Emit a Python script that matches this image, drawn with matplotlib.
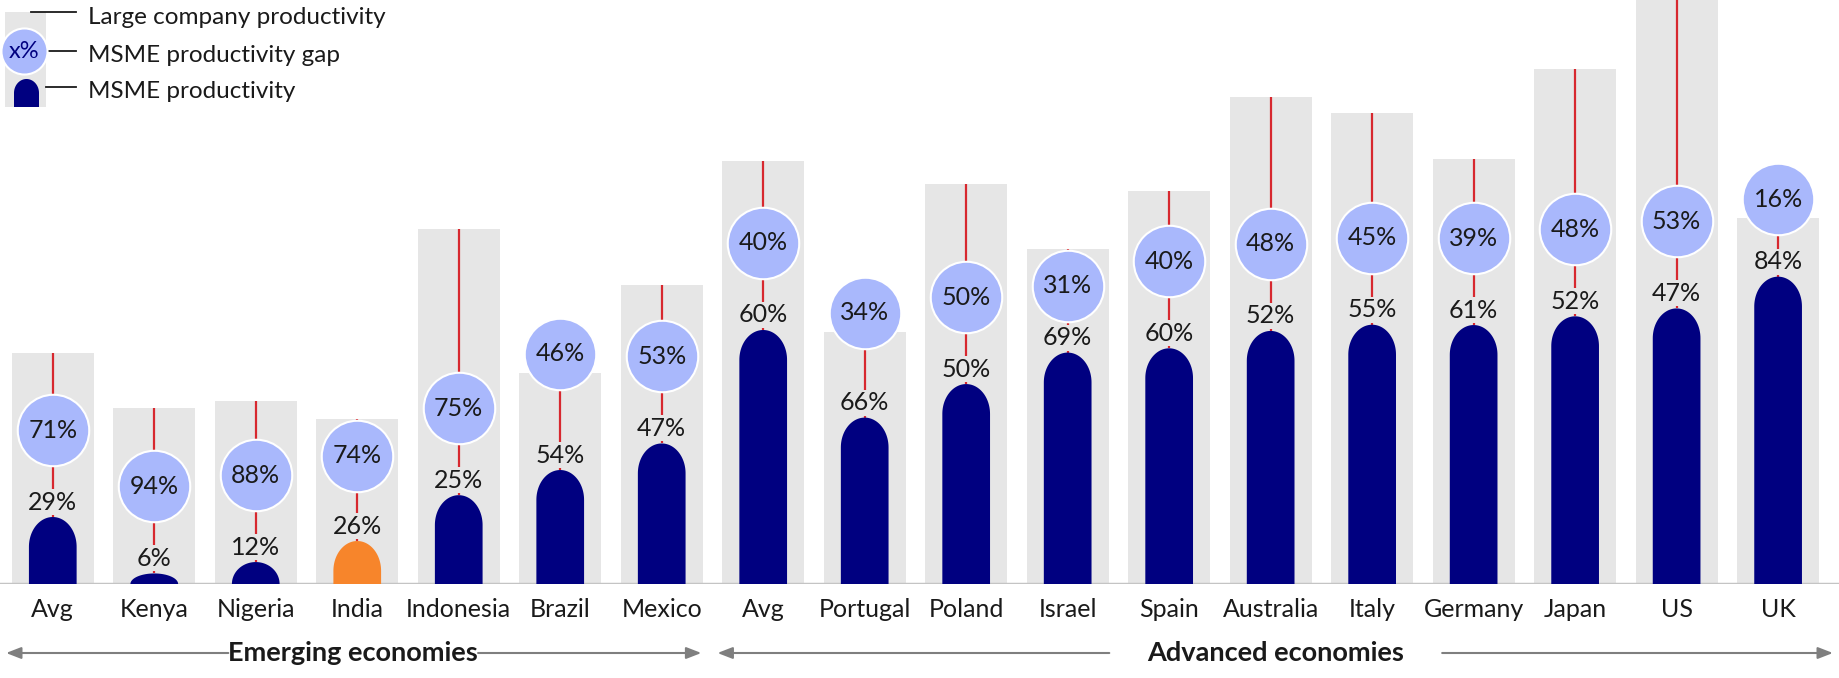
import numpy as np
import matplotlib.pyplot as plt
from matplotlib.patches import Polygon, Rectangle

plt.rcParams['font.family'] = ['Lato', 'DejaVu Sans']

countries = ['Avg', 'Kenya', 'Nigeria', 'India', 'Indonesia', 'Brazil', 'Mexico',
             'Avg', 'Portugal', 'Poland', 'Israel', 'Spain', 'Australia', 'Italy',
             'Germany', 'Japan', 'US', 'UK']
# large company productivity (index)
large_prod = [39.4, 30.0, 31.2, 28.2, 60.6, 36.0, 51.0, 72.2, 43.0, 68.2,
              57.2, 67.0, 83.0, 80.4, 72.4, 87.8, 100.0, 62.4]
# MSME productivity as % of large company productivity
msme_share = [29, 6, 12, 26, 25, 54, 47, 60, 66, 50, 69, 60, 52, 55, 61, 52, 47, 84]
# MSME productivity gap, %
gap = [71, 94, 88, 74, 75, 46, 53, 40, 34, 50, 31, 40, 48, 45, 39, 48, 53, 16]
highlight = 'India'
groups = [('Emerging economies', 0, 6), ('Advanced economies', 7, 17)]

GREY = '#e6e6e6'
NAVY = '#000080'
ORANGE = '#f7852b'
BUBBLE = '#a9b8fc'
RED = '#d7282f'
TXT = '#1a1a1a'

W, H = 1839, 678
fig = plt.figure(figsize=(W / 100, H / 100), dpi=100)
base_px = 94
ax = fig.add_axes([0, base_px / H, 1, 1 - base_px / H])
xmin, xmax = -0.52, 17.6
ytop = 99.6
ax.set_xlim(xmin, xmax)
ax.set_ylim(0, ytop)

# pixel size of one data unit
xpx = W / (xmax - xmin)
ypx = (H - base_px) / ytop

x = np.arange(len(countries))
large = np.array(large_prod)
msme = large * np.array(msme_share) / 100


def rounded_bar(axis, xc, h, half_w, ry, color, zorder):
    # bar with a rounded (elliptic) top
    ry = min(ry, h)
    t = np.linspace(0, np.pi, 60)
    arc_x = xc + half_w * np.cos(t)
    arc_y = (h - ry) + ry * np.sin(t)
    pts = np.column_stack([np.r_[xc + half_w, arc_x, xc - half_w],
                           np.r_[0, arc_y, 0]])
    axis.add_patch(Polygon(pts, closed=True, fc=color, ec='none', zorder=zorder))


ax.bar(x, large, width=0.81, color=GREY, zorder=1)
ax.vlines(x, msme, large, color=RED, lw=1.6, zorder=2)

half_w = 0.235
ry = 1.25 * half_w * xpx / ypx
r_units = 31 / ypx
for i, name in enumerate(countries):
    color = ORANGE if name == highlight else NAVY
    rounded_bar(ax, x[i], msme[i], half_w, ry, color, 3)

    lab_y = msme[i] + 15 / ypx
    ax.text(x[i], lab_y, f'{msme_share[i]}%', ha='center', va='center',
            fontsize=18, color=TXT, zorder=4,
            bbox=dict(fc=GREY, ec='none', pad=1))

    # bubble sits above the label, inside the grey bar when there is room
    cy = min(lab_y + 72 / ypx, large[i] - r_units - 6 / ypx)
    if cy - lab_y < 49 / ypx:
        cy = large[i] + 19 / ypx
    ax.scatter([x[i]], [cy], s=2650, c=BUBBLE, edgecolors='white',
               linewidths=1.5, zorder=5)
    ax.text(x[i], cy, f'{gap[i]}%', ha='center', va='center',
            fontsize=18, color=TXT, zorder=6)

ax.axhline(0, color='#c4c4c4', lw=2.5, zorder=2.5)
ax.set_xticks(x, countries, fontsize=18, color=TXT)
ax.tick_params(axis='x', length=0, pad=10)
ax.set_yticks([])
for s in ax.spines.values():
    s.set_visible(False)

# group arrows under the axis
tr = ax.get_xaxis_transform()
arrow_y = -69 / (H - base_px)
spans = [(-0.46, 6.39, 2.96, 0), (6.55, 17.54, 12.05, 38)]
renderer = fig.canvas.get_renderer()
arrow_kw = dict(arrowstyle='-|>,head_length=0.9,head_width=0.35',
                color='#7f7f7f', lw=1.5, shrinkA=0, shrinkB=0)
for (label, i0, i1), (a, b, tx, gap_px) in zip(groups, spans):
    t = ax.text(tx, arrow_y, label, transform=tr, ha='center', va='center',
                fontsize=19.5, fontweight='bold', color=TXT, zorder=5)
    ext = t.get_window_extent(renderer)
    left = ax.transData.inverted().transform((ext.x0 - gap_px, 0))[0]
    right = ax.transData.inverted().transform((ext.x1 + gap_px, 0))[0]
    ax.annotate('', xy=(a, arrow_y), xytext=(left, arrow_y), xycoords=tr,
                textcoords=tr, annotation_clip=False, arrowprops=arrow_kw)
    ax.annotate('', xy=(b, arrow_y), xytext=(right, arrow_y), xycoords=tr,
                textcoords=tr, annotation_clip=False, arrowprops=arrow_kw)

# legend drawn in pixel coordinates
lg = fig.add_axes([0, 0, 1, 1])
lg.set_xlim(0, W)
lg.set_ylim(H, 0)
lg.axis('off')
lg.patch.set_visible(False)
lg.add_patch(Rectangle((5, 12), 41, 95, fc=GREY, ec='none'))
lg.plot([31, 76], [12, 12], color=TXT, lw=1.3)
lg.plot([48, 76], [51, 51], color=TXT, lw=1.3)
lg.plot([46, 76], [87, 87], color=TXT, lw=1.3)
lg.scatter([24], [51], s=1100, c=BUBBLE, edgecolors='white', linewidths=1.5, zorder=3)
lg.text(24, 52, 'x%', ha='center', va='center', fontsize=17, color=NAVY, zorder=4)
t = np.linspace(0, np.pi, 40)
bx = np.r_[39, 26.5 + 12.5 * np.cos(t), 14]
by = np.r_[107, 93 - 14 * np.sin(t), 107]
lg.add_patch(Polygon(np.column_stack([bx, by]), closed=True, fc=NAVY, ec='none'))
legend_text = ['Large company productivity', 'MSME productivity gap', 'MSME productivity']
for ty, txt in zip([17, 55, 92], legend_text):
    lg.text(88, ty, txt, ha='left', va='center', fontsize=17.5, color=TXT)

fig.savefig('out.png', dpi=100)
